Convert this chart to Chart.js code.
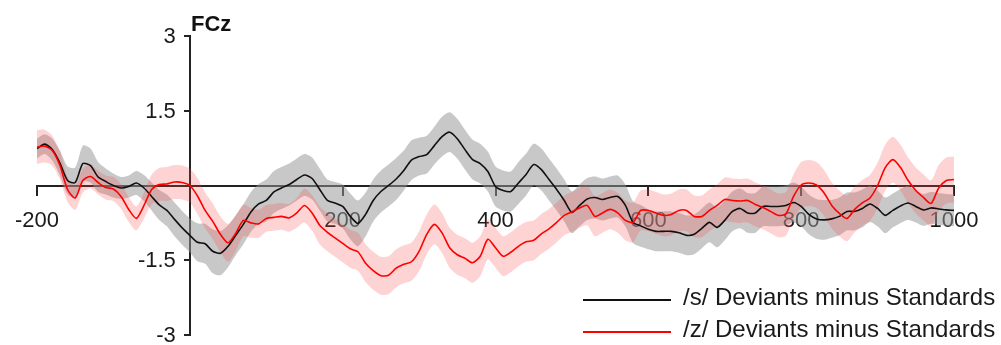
<!DOCTYPE html>
<html>
<head>
<meta charset="utf-8">
<script src="https://cdn.jsdelivr.net/npm/chart.js@4.4.1/dist/chart.umd.min.js"></script>
<style>
  html, body { margin: 0; padding: 0; background: #fff; }
  .wrap { position: relative; width: 1001px; height: 345px; overflow: hidden; }
  .chan { position: absolute; left: 191px; top: 13px; font: bold 22px/22px 'Liberation Sans', Arial, sans-serif; color: #111; }
  .key-line { position: absolute; left: 583px; width: 88px; height: 2px; }
  .key-text { position: absolute; left: 683px; font: 24px/24px 'Liberation Sans', Arial, sans-serif; color: #1a1a1a; white-space: nowrap; }
</style>
</head>
<body>
<div class="wrap">
  <canvas id="erp"></canvas>
  <div class="chan">FCz</div>
  <div class="key-line" style="top:299px;background:#111"></div>
  <div class="key-text" style="top:285px">/s/ Deviants minus Standards</div>
  <div class="key-line" style="top:331px;background:#f00"></div>
  <div class="key-text" style="top:317px">/z/ Deviants minus Standards</div>
</div>
<script>
// ===== DATA (ms, µV) =====
const times = [
  -200, -190, -180, -170, -160, -150, -140, -130, -120, -110,
  -100, -90, -80, -70, -60, -50, -40, -30, -20, -10,
  0, 10, 20, 30, 40, 50, 60, 70, 80, 90,
  100, 110, 120, 130, 140, 150, 160, 170, 180, 190,
  200, 210, 220, 230, 240, 250, 260, 270, 280, 290,
  300, 310, 320, 330, 340, 350, 360, 370, 380, 390,
  400, 410, 420, 430, 440, 450, 460, 470, 480, 490,
  500, 510, 520, 530, 540, 550, 560, 570, 580, 590,
  600, 610, 620, 630, 640, 650, 660, 670, 680, 690,
  700, 710, 720, 730, 740, 750, 760, 770, 780, 790,
  800, 810, 820, 830, 840, 850, 860, 870, 880, 890,
  900, 910, 920, 930, 940, 950, 960, 970, 980, 990,
  1000
];

// /s/ deviants minus standards
const sMean = [
  0.74, 0.83, 0.72, 0.45, 0.10, 0.06, 0.44, 0.40, 0.17, 0.08,
  0.00, -0.05, -0.02, 0.05, -0.05, -0.22, -0.39, -0.50, -0.68, -0.85,
  -1.00, -1.14, -1.17, -1.32, -1.36, -1.22, -1.00, -0.78, -0.53, -0.37,
  -0.30, -0.13, -0.05, 0.02, 0.12, 0.21, 0.14, -0.08, -0.30, -0.35,
  -0.42, -0.62, -0.76, -0.58, -0.30, -0.12, 0.00, 0.13, 0.30, 0.51,
  0.58, 0.62, 0.80, 0.98, 1.07, 0.94, 0.72, 0.52, 0.44, 0.28,
  -0.02, -0.10, -0.12, 0.05, 0.22, 0.42, 0.32, 0.12, -0.08, -0.30,
  -0.54, -0.40, -0.27, -0.24, -0.28, -0.24, -0.22, -0.40, -0.74, -0.81,
  -0.88, -0.92, -0.92, -0.92, -0.95, -1.00, -0.98, -0.86, -0.74, -0.84,
  -0.70, -0.52, -0.46, -0.55, -0.55, -0.42, -0.42, -0.42, -0.40, -0.34,
  -0.42, -0.58, -0.67, -0.69, -0.67, -0.62, -0.52, -0.52, -0.46, -0.37,
  -0.46, -0.60, -0.50, -0.41, -0.35, -0.42, -0.49, -0.45, -0.47, -0.49,
  -0.50
];
const sSem = [
  0.20, 0.20, 0.22, 0.25, 0.28, 0.30, 0.36, 0.34, 0.30, 0.26,
  0.24, 0.22, 0.22, 0.24, 0.26, 0.28, 0.30, 0.32, 0.34, 0.34,
  0.34, 0.38, 0.40, 0.44, 0.44, 0.42, 0.40, 0.40, 0.40, 0.40,
  0.42, 0.42, 0.42, 0.42, 0.42, 0.42, 0.42, 0.42, 0.42, 0.42,
  0.44, 0.46, 0.46, 0.44, 0.42, 0.42, 0.42, 0.42, 0.40, 0.40,
  0.38, 0.38, 0.38, 0.40, 0.40, 0.40, 0.40, 0.40, 0.40, 0.40,
  0.40, 0.40, 0.40, 0.42, 0.42, 0.42, 0.42, 0.42, 0.42, 0.42,
  0.42, 0.42, 0.42, 0.42, 0.42, 0.42, 0.42, 0.42, 0.42, 0.42,
  0.40, 0.40, 0.40, 0.40, 0.40, 0.40, 0.40, 0.40, 0.40, 0.40,
  0.40, 0.40, 0.40, 0.40, 0.40, 0.40, 0.40, 0.40, 0.40, 0.40,
  0.40, 0.40, 0.40, 0.40, 0.38, 0.38, 0.38, 0.38, 0.38, 0.36,
  0.36, 0.36, 0.34, 0.34, 0.34, 0.32, 0.32, 0.32, 0.32, 0.32,
  0.32
];

// /z/ deviants minus standards
const zMean = [
  0.77, 0.79, 0.70, 0.40, -0.08, -0.25, 0.10, 0.18, 0.06, -0.04,
  -0.07, -0.22, -0.48, -0.66, -0.40, -0.08, 0.02, 0.03, 0.07, 0.06,
  0.00, -0.21, -0.50, -0.72, -0.98, -1.15, -0.96, -0.70, -0.75, -0.77,
  -0.66, -0.64, -0.62, -0.65, -0.55, -0.40, -0.55, -0.80, -0.94, -1.05,
  -1.16, -1.27, -1.33, -1.56, -1.71, -1.81, -1.80, -1.66, -1.58, -1.53,
  -1.32, -0.98, -0.78, -0.95, -1.25, -1.39, -1.46, -1.55, -1.42, -1.08,
  -1.25, -1.42, -1.34, -1.22, -1.13, -1.10, -0.97, -0.87, -0.74, -0.60,
  -0.53, -0.45, -0.40, -0.62, -0.55, -0.48, -0.55, -0.70, -0.74, -0.50,
  -0.50, -0.55, -0.60, -0.58, -0.50, -0.50, -0.62, -0.62, -0.50, -0.40,
  -0.28, -0.30, -0.31, -0.30, -0.38, -0.44, -0.52, -0.60, -0.57, -0.22,
  0.01, 0.05, 0.01, -0.15, -0.40, -0.56, -0.66, -0.48, -0.35, -0.25,
  0.00, 0.36, 0.52, 0.36, 0.10, -0.10, -0.24, -0.36, -0.05, 0.10,
  0.12
];
const zSem = [
  0.34, 0.33, 0.30, 0.28, 0.25, 0.24, 0.24, 0.24, 0.24, 0.24,
  0.24, 0.25, 0.25, 0.24, 0.26, 0.30, 0.33, 0.34, 0.34, 0.34,
  0.34, 0.36, 0.36, 0.36, 0.36, 0.38, 0.36, 0.32, 0.30, 0.28,
  0.27, 0.27, 0.27, 0.28, 0.30, 0.34, 0.36, 0.38, 0.38, 0.38,
  0.38, 0.38, 0.38, 0.38, 0.38, 0.38, 0.38, 0.38, 0.38, 0.38,
  0.40, 0.40, 0.40, 0.40, 0.40, 0.40, 0.40, 0.40, 0.40, 0.40,
  0.40, 0.40, 0.40, 0.40, 0.40, 0.40, 0.40, 0.40, 0.40, 0.40,
  0.40, 0.40, 0.40, 0.40, 0.40, 0.40, 0.40, 0.40, 0.40, 0.40,
  0.42, 0.42, 0.42, 0.42, 0.42, 0.42, 0.42, 0.42, 0.42, 0.42,
  0.44, 0.44, 0.44, 0.44, 0.44, 0.44, 0.44, 0.44, 0.44, 0.44,
  0.46, 0.46, 0.46, 0.46, 0.46, 0.46, 0.46, 0.46, 0.46, 0.46,
  0.46, 0.46, 0.46, 0.46, 0.46, 0.46, 0.46, 0.46, 0.46, 0.46,
  0.46
];

const xTicks = [-200, 200, 400, 600, 800, 1000];
const yTicks = [-3, -1.5, 1.5, 3];

// ===== HELPERS =====
const pts = (vals) => times.map((t, i) => ({ x: t, y: vals[i] }));
const band = (mean, sem, sign) => pts(mean.map((m, i) => m + sign * sem[i]));

const lineDs = (data, color) => ({
  data, borderColor: color, borderWidth: 1.6, pointRadius: 0, tension: 0.25, fill: false,
});
const bandDs = (data, color, fill) => ({
  data, borderWidth: 0, borderColor: 'transparent', backgroundColor: color,
  pointRadius: 0, tension: 0.25, fill,
});

const fontFamily = "'Liberation Sans', Arial, sans-serif";
const tickFont = { family: fontFamily, size: 22 };

// Chart.js puts labels of an axis positioned at x=0 right on the axis line,
// so the y tick labels are drawn here, a little left of the tick marks.
const yTickLabels = {
  id: 'yTickLabels',
  afterDraw(chart) {
    const { ctx, scales: { x, y } } = chart;
    const left = x.getPixelForValue(0) - 14;
    ctx.save();
    ctx.font = `22px ${fontFamily}`;
    ctx.fillStyle = '#1a1a1a';
    ctx.textAlign = 'right';
    ctx.textBaseline = 'middle';
    yTicks.forEach(v => ctx.fillText(String(v), left, y.getPixelForValue(v) + 1));
    ctx.restore();
  }
};

// ===== CHART =====
new Chart(document.getElementById('erp'), {
  type: 'line',
  data: {
    datasets: [
      lineDs(pts(zMean), '#ff0000'),
      lineDs(pts(sMean), '#111111'),
      bandDs(band(zMean, zSem, 1), 'rgba(250,70,70,0.24)', '+1'),
      bandDs(band(zMean, zSem, -1), 'rgba(0,0,0,0)', false),
      bandDs(band(sMean, sSem, 1), 'rgba(150,150,150,0.52)', '+1'),
      bandDs(band(sMean, sSem, -1), 'rgba(0,0,0,0)', false),
    ]
  },
  options: {
    responsive: true,
    maintainAspectRatio: false,
    animation: false,
    events: [],
    layout: { padding: { left: 37, right: 47, top: 36, bottom: 10 } },
    plugins: { legend: { display: false }, tooltip: { enabled: false } },
    scales: {
      x: {
        type: 'linear',
        min: -200, max: 1000,
        position: { y: 0 },
        afterBuildTicks: s => { s.ticks = xTicks.map(v => ({ value: v })); },
        ticks: { color: '#1a1a1a', font: tickFont, padding: 13, autoSkip: false, maxRotation: 0,
                 callback: v => String(v) },
        grid: { drawOnChartArea: false, drawTicks: true, tickLength: 9, color: '#222', lineWidth: 2 },
        border: { color: '#222', width: 2 },
      },
      y: {
        type: 'linear',
        min: -3, max: 3,
        position: { x: 0 },
        afterBuildTicks: s => { s.ticks = yTicks.map(v => ({ value: v })); },
        ticks: { display: false, padding: 0 },
        grid: { drawOnChartArea: false, drawTicks: true, tickLength: 5, color: '#222', lineWidth: 2 },
        border: { color: '#222', width: 2 },
      }
    }
  },
  plugins: [yTickLabels]
});
</script>
</body>
</html>
